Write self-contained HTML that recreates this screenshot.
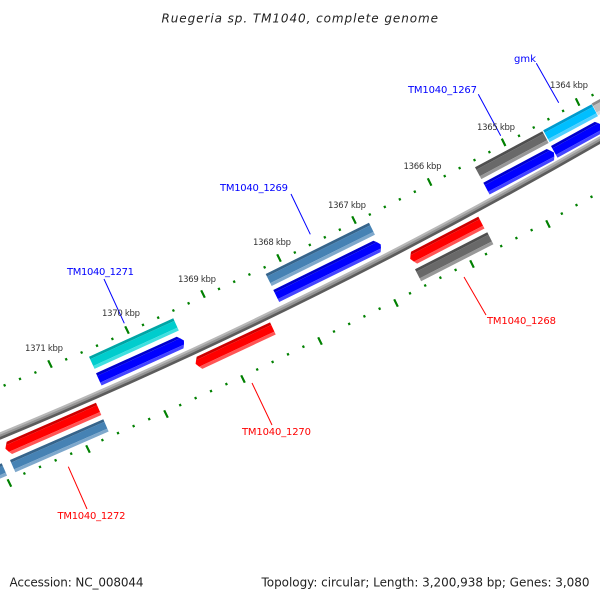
<!DOCTYPE html>
<html>
<head>
<meta charset="utf-8">
<title>Ruegeria sp. TM1040, complete genome</title>
<style>
html,body{margin:0;padding:0;background:#fff;}
svg{display:block;}
text{font-family:"DejaVu Sans","Liberation Sans",sans-serif;}
.l{font-size:10px;}
.k{font-size:8.5px;fill:#333;}
.m{font-size:12px;fill:#222;}
.b{fill:#0000ff;}
.r{fill:#ff0000;}
.blue1{fill:#0000cd}.blue2{fill:#0000ff}.blue3{fill:#4545ff}
.red1{fill:#cd0000}.red2{fill:#ff0000}.red3{fill:#ff5555}
.st1{fill:#36648b}.st2{fill:#4682b4}.st3{fill:#7ea8cc}
.gr1{fill:#4f4f4f}.gr2{fill:#696969}.gr3{fill:#989898}
.cy1{fill:#00a5a5}.cy2{fill:#00cdcd}.cy3{fill:#40e0e0}
.sk1{fill:#009acd}.sk2{fill:#00bfff}.sk3{fill:#50d0ff}
.lg1{fill:#8a8a8a}.lg2{fill:#bebebe}.lg3{fill:#dcdcdc}
</style>
</head>
<body>
<svg xmlns="http://www.w3.org/2000/svg" width="600" height="600" viewBox="0 0 600 600">
<rect width="600" height="600" fill="#fff"/>

<!-- backbone -->
<g fill="none" stroke-linejoin="round">
<path stroke="#b8b8b8" stroke-width="2.6" transform="translate(-0.85,-2)" d="M-12 441 L0 436 Q300 312.5 600 140 L612 133"/>
<path stroke="#949494" stroke-width="2.6" d="M-12 441 L0 436 Q300 312.5 600 140 L612 133"/>
<path stroke="#5c5c5c" stroke-width="2.6" transform="translate(0.85,2)" d="M-12 441 L0 436 Q300 312.5 600 140 L612 133"/>
</g>

<!-- minor ticks -->
<g stroke="#008000" stroke-width="2.2" fill="none">
<path d="M592 94l1 2.2M562.6 109.8l1 2.2M547.9 118.1l1 2.2M533.2 126.4l1 2.2M518.5 134.7l1 2.2M488.9 151l1 2.2M474 159l1 2.2M459.1 167l1 2.2M444.2 175l1 2.2M414.3 190.6l1 2.2M399.3 198.2l1 2.2M384.3 205.8l1 2.2M369.3 213.4l1 2.2M339.3 228.6l1 2.2M324.3 236.2l1 2.2M309.3 243.8l1 2.2M294.3 251.4l1 2.2M264.1 266.2l1 2.2M248.9 273.4l1 2.2M233.7 280.6l1 2.2M218.5 287.8l1 2.2M188.1 302.2l1 2.2M172.9 309.4l1 2.2M157.7 316.6l1 2.2M142.5 323.8l1 2.2M111.9 337.8l1 2.2M96.5 344.6l1 2.2M81.1 351.4l1 2.2M65.7 358.2l1 2.2M34.9 371.4l1 2.2M19.5 377.8l1 2.2M4.1 384.2l1 2.2"/>
<path d="M591 195.7l1 2.2M576 204l1 2.2M561.3 212.5l1 2.2M531.1 229l1 2.2M515.9 237l1 2.2M500.7 245l1 2.2M485.5 253l1 2.2M455.1 268.8l1 2.2M439.9 276.6l1 2.2M424.7 284.4l1 2.2M409.5 292.2l1 2.2M379.1 307.6l1 2.2M363.9 315.2l1 2.2M348.7 322.8l1 2.2M333.5 330.4l1 2.2M302.9 345.6l1 2.2M287.5 353.2l1 2.2M272.1 360.8l1 2.2M256.7 368.4l1 2.2M225.9 383l1 2.2M210.5 390l1 2.2M195.1 397l1 2.2M179.7 404l1 2.2M148.7 418l1 2.2M133.1 425l1 2.2M117.5 432l1 2.2M101.9 439l1 2.2M70.7 452.6l1 2.2M55.1 459.2l1 2.2M39.5 465.8l1 2.2M23.9 472.4l1 2.2"/>
<!-- major ticks -->
<path d="M575.8 98.3l3.6 7.4M501.8 138.6l3.6 7.4M427.8 178.3l3.6 7.4M352.2 216.3l3.6 7.4M277.2 254.3l3.6 7.4M201.2 290.3l3.6 7.4M125.2 326.3l3.6 7.4M48.2 360.3l3.6 7.4"/>
<path d="M546.2 220.3l3.6 7.4M470.2 260.3l3.6 7.4M394.2 299.3l3.6 7.4M318.2 337.3l3.6 7.4M241.2 375.3l3.6 7.4M164.2 410.3l3.6 7.4M86.2 445.3l3.6 7.4M7.6 479.3l3.6 7.4"/>
</g>

<!-- cyan gene -->
<g transform="translate(89,356.7) rotate(-24.5)">
<rect class="cy1" width="92.6" height="2.8"/><rect class="cy2" y="2.8" width="92.6" height="7.4"/><rect class="cy3" y="10.2" width="92.6" height="3.2"/>
</g>
<!-- blue gene under cyan -->
<g transform="translate(96,373.3) rotate(-24.4)">
<polygon class="blue1" points="0,0 88.6,0 91,2.8 0,2.8"/><polygon class="blue2" points="0,2.8 91,2.8 93.6,6.5 92,10.2 0,10.2"/><polygon class="blue3" points="0,10.2 92,10.2 90,13.4 0,13.4"/>
</g>
<!-- steelblue 1269 -->
<g transform="translate(265.7,274) rotate(-26.4)">
<rect class="st1" width="115.3" height="2.8"/><rect class="st2" y="2.8" width="115.3" height="7.4"/><rect class="st3" y="10.2" width="115.3" height="3.2"/>
</g>
<!-- blue under 1269 -->
<g transform="translate(273.3,290) rotate(-26.2)">
<polygon class="blue1" points="0,0 111.5,0 114,2.8 0,2.8"/><polygon class="blue2" points="0,2.8 114,2.8 116.5,6.5 115,10.2 0,10.2"/><polygon class="blue3" points="0,10.2 115,10.2 113,13.4 0,13.4"/>
</g>
<!-- light gray far right -->
<g transform="translate(591.7,103.5) rotate(-28.4)">
<rect class="lg1" width="30" height="2.8"/><rect class="lg2" y="2.8" width="30" height="7.4"/><rect class="lg3" y="10.2" width="30" height="3.2"/>
</g>
<!-- gray 1267 -->
<g transform="translate(475,167.3) rotate(-28.2)">
<rect class="gr1" width="76.4" height="2.8"/><rect class="gr2" y="2.8" width="76.4" height="7.4"/><rect class="gr3" y="10.2" width="76.4" height="3.2"/>
</g>
<!-- gmk -->
<g transform="translate(543.2,130.3) rotate(-28.2)">
<rect class="sk1" width="55" height="2.8"/><rect class="sk2" y="2.8" width="55" height="7.4"/><rect class="sk3" y="10.2" width="55" height="3.2"/>
</g>
<!-- blue under 1267 -->
<g transform="translate(483.3,182.7) rotate(-28)">
<polygon class="blue1" points="0,0 71.8,0 74,2.8 0,2.8"/><polygon class="blue2" points="0,2.8 74,2.8 76.5,6.5 75,10.2 0,10.2"/><polygon class="blue3" points="0,10.2 75,10.2 73,13.4 0,13.4"/>
</g>
<!-- blue under gmk -->
<g transform="translate(551,146) rotate(-28.9)">
<polygon class="blue1" points="0,0 50,0 52.5,2.8 0,2.8"/><polygon class="blue2" points="0,2.8 52.5,2.8 55,6.5 53.5,10.2 0,10.2"/><polygon class="blue3" points="0,10.2 53.5,10.2 51.5,13.4 0,13.4"/>
</g>
<!-- red 1268 -->
<g transform="translate(411,251.7) rotate(-27.5)">
<polygon class="red1" points="0,0 75.9,0 75.9,2.8 -2,2.8"/><polygon class="red2" points="-2,2.8 75.9,2.8 75.9,10.2 -2,10.2 -4,6"/><polygon class="red3" points="-2,10.2 75.9,10.2 75.9,13.4 0,13.4"/>
</g>
<!-- gray 1268 -->
<g transform="translate(415,269.3) rotate(-27.1)">
<rect class="gr1" width="81.2" height="2.8"/><rect class="gr2" y="2.8" width="81.2" height="7.4"/><rect class="gr3" y="10.2" width="81.2" height="3.2"/>
</g>
<!-- red 1270 -->
<g transform="translate(196.7,356.7) rotate(-25.1)">
<polygon class="red1" points="0,0 81,0 81,2.8 -2,2.8"/><polygon class="red2" points="-2,2.8 81,2.8 81,10.2 -2,10.2 -4,6"/><polygon class="red3" points="-2,10.2 81,10.2 81,13.4 0,13.4"/>
</g>
<!-- red 1272 -->
<g transform="translate(6.7,441.7) rotate(-23.6)">
<polygon class="red1" points="0,0 97.4,0 97.4,2.8 -2,2.8"/><polygon class="red2" points="-2,2.8 97.4,2.8 97.4,10.2 -2,10.2 -4,6"/><polygon class="red3" points="-2,10.2 97.4,10.2 97.4,13.4 0,13.4"/>
</g>
<!-- steelblue 1272 -->
<g transform="translate(10,460) rotate(-23.6)">
<rect class="st1" width="101.8" height="2.8"/><rect class="st2" y="2.8" width="101.8" height="7.4"/><rect class="st3" y="10.2" width="101.8" height="3.2"/>
</g>
<!-- steelblue left edge -->
<g transform="translate(-25.8,475.3) rotate(-23.6)">
<rect class="st1" width="30" height="2.8"/><rect class="st2" y="2.8" width="30" height="7.4"/><rect class="st3" y="10.2" width="30" height="3.2"/>
</g>

<!-- connectors -->
<g stroke="#0000ff" stroke-width="1" fill="none">
<line x1="536.3" y1="63.3" x2="558.7" y2="102.7"/>
<line x1="478.3" y1="94.3" x2="500.7" y2="135.7"/>
<line x1="291" y1="194" x2="310.3" y2="234.3"/>
<line x1="104" y1="279" x2="124.3" y2="323.3"/>
</g>
<g stroke="#ff0000" stroke-width="1" fill="none">
<line x1="68.3" y1="466.7" x2="87" y2="509"/>
<line x1="252" y1="383" x2="272" y2="425"/>
<line x1="464" y1="277" x2="486" y2="315"/>
</g>

<!-- kbp labels -->
<text class="k" x="550" y="88" textLength="38">1364 kbp</text>
<text class="k" x="477" y="130" textLength="38">1365 kbp</text>
<text class="k" x="403.5" y="169" textLength="38">1366 kbp</text>
<text class="k" x="328" y="208" textLength="38">1367 kbp</text>
<text class="k" x="253" y="245" textLength="38">1368 kbp</text>
<text class="k" x="178" y="282" textLength="38">1369 kbp</text>
<text class="k" x="102" y="316" textLength="38">1370 kbp</text>
<text class="k" x="25" y="351" textLength="38">1371 kbp</text>

<!-- gene labels -->
<text class="l b" x="514" y="62" textLength="22">gmk</text>
<text class="l b" x="408" y="93" textLength="69">TM1040_1267</text>
<text class="l b" x="220" y="191" textLength="68">TM1040_1269</text>
<text class="l b" x="67" y="275" textLength="67">TM1040_1271</text>
<text class="l r" x="487" y="324" textLength="69">TM1040_1268</text>
<text class="l r" x="242" y="435" textLength="69">TM1040_1270</text>
<text class="l r" x="57.5" y="519" textLength="68">TM1040_1272</text>

<!-- title / footer -->
<text class="m" x="161.5" y="22.5" font-style="italic" textLength="276.5">Ruegeria sp. TM1040, complete genome</text>
<text class="m" x="9.5" y="586.5" textLength="134">Accession: NC_008044</text>
<text class="m" x="261.5" y="586.5" textLength="328">Topology: circular; Length: 3,200,938 bp; Genes: 3,080</text>
</svg>
</body>
</html>
